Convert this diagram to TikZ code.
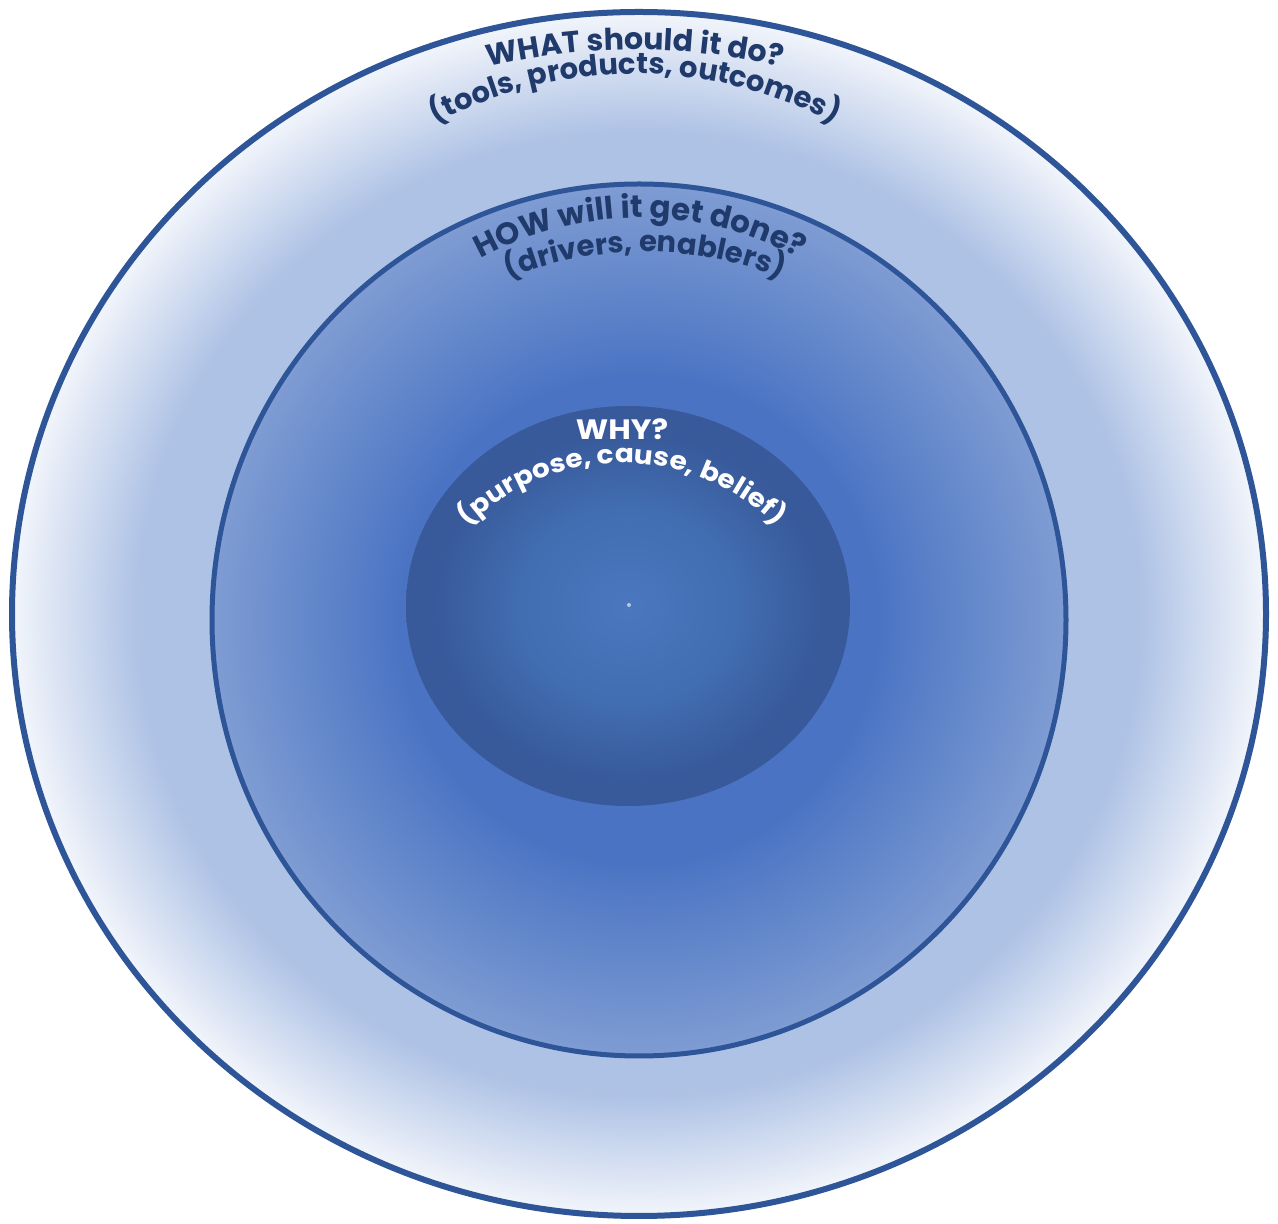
\documentclass[tikz,border=0pt]{standalone}
\usepackage{fontspec}
\setmainfont{Poppins}
\newfontfamily\widepop{Poppins}[FakeStretch=1.1]
\usetikzlibrary{decorations.text}
\definecolor{strokeblue}{HTML}{2E5597}
\definecolor{navy}{HTML}{1F3A6B}
\definecolor{ringA}{HTML}{AEC2E5}
\definecolor{ringEdge}{HTML}{F2F5FB}
\definecolor{midA}{HTML}{4A74C3}
\definecolor{midEdge}{HTML}{7F9CD3}
\definecolor{inA}{HTML}{4A77BE}
\definecolor{inB}{HTML}{416EB2}
\definecolor{inEdge}{HTML}{38599A}
\definecolor{dotc}{HTML}{B4C8EA}
\pgfdeclareradialshading{outershade}{\pgfpoint{0bp}{0bp}}{color(0bp)=(ringA); color(20bp)=(ringA); color(25bp)=(ringEdge); color(50bp)=(ringEdge)}
\pgfdeclareradialshading{midshade}{\pgfpoint{0bp}{0bp}}{color(0bp)=(midA); color(14bp)=(midA); color(25bp)=(midEdge); color(50bp)=(midEdge)}
\pgfdeclareradialshading{innershade}{\pgfpoint{0bp}{0bp}}{color(0bp)=(inA); color(12bp)=(inB); color(22bp)=(inEdge); color(25bp)=(inEdge); color(50bp)=(inEdge)}
\tikzset{
  ringline/.style={draw=strokeblue},
  arctext/.style={decorate, decoration={text along path, text align=center, text color=#1}},
}
\begin{document}
\begin{tikzpicture}[x=1pt,y=1pt]
\useasboundingbox (0,0) rectangle (1278,1224);
\fill[white] (0,0) rectangle (1278,1224);
\coordinate (cOuter) at (639,610);
\coordinate (cMid) at (639,604);
\coordinate (cIn) at (628,618);
% rings
\shadedraw[shading=outershade, ringline, line width=6pt] (cOuter) ellipse [x radius=627, y radius=602];
\shadedraw[shading=midshade, ringline, line width=5pt] (cMid) ellipse [x radius=427, y radius=436];
\shade[shading=innershade] (cIn) ellipse [x radius=222, y radius=200];
\fill[dotc] (629,619) circle (2);
% text arcs
\coordinate (t1) at (635,534);
\coordinate (t2) at (635,724);
\coordinate (t3) at (640,673);
\coordinate (t4) at (645,609);
\coordinate (t6) at (622,541);
\path[arctext=navy, decoration={text={|\bfseries\fontsize{30}{36}\selectfont|WHAT should it do?}}]
  ([shift={(160:640)}]t1) arc[start angle=160, end angle=20, radius=640];
\path[arctext=navy, decoration={text={|\bfseries\fontsize{29}{36}\selectfont|(tools, products, outcomes)}}]
  ([shift={(160:426)}]t2) arc[start angle=160, end angle=20, radius=426];
\path[arctext=navy, decoration={text={|\bfseries\fontsize{31}{36}\selectfont|HOW will it get done?}}]
  ([shift={(160:333)}]t3) arc[start angle=160, end angle=20, radius=333];
\path[arctext=navy, decoration={text={|\bfseries\fontsize{29}{36}\selectfont|(drivers, enablers)}}]
  ([shift={(160:363)}]t4) arc[start angle=160, end angle=20, radius=363];
\node[anchor=base, text=white, font=\widepop\bfseries\fontsize{28}{34}\selectfont, inner sep=0] (why) at (622,784) {WHY?};
\path[arctext=white, decoration={text={|\widepop\bfseries\fontsize{25.5}{32}\selectfont|(purpose, cause, belief)}}]
  ([shift={(165:220)}]t6) arc[start angle=165, end angle=15, radius=220];
\end{tikzpicture}
\end{document}
